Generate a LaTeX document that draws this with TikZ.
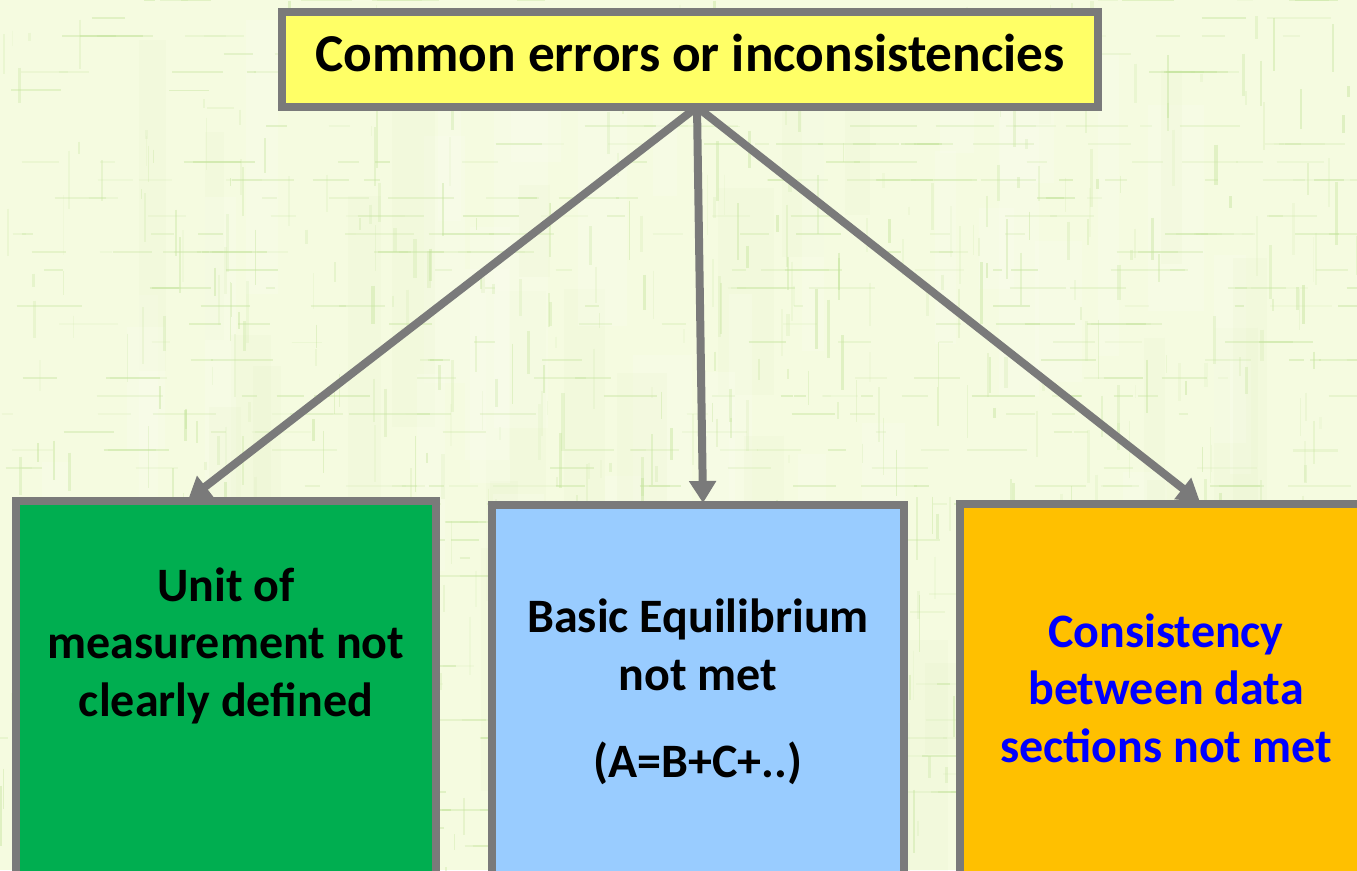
\documentclass[tikz,border=0pt]{standalone}
\usepackage{fontspec}
\setmainfont{Carlito}
\usetikzlibrary{arrows.meta}
\definecolor{paper}{HTML}{F5FBE0}
\definecolor{weave}{HTML}{C4E49C}
\definecolor{pale}{HTML}{FEFFF4}
\definecolor{edgegray}{HTML}{7A7A7A}
\definecolor{boxgreen}{HTML}{00AE50}
\definecolor{boxblue}{HTML}{99CCFF}
\definecolor{boxorange}{HTML}{FFC000}
\definecolor{boxyellow}{HTML}{FFFF66}
\tikzset{
  box/.style={draw=edgegray,line width=8pt,inner sep=0pt,outer sep=0pt,anchor=north west},
  link/.style={draw=edgegray,line width=8pt,-{Triangle[length=22pt,width=26pt]}},
  label/.style={font=\fontsize{48}{57.5}\selectfont\bfseries,align=center,inner sep=0pt},
}
\begin{document}
\begin{tikzpicture}[x=1pt,y=-1pt]
\useasboundingbox (0,0) rectangle (1357,870);
\clip (0,0) rectangle (1357,870);
\fill[paper] (0,0) rectangle (1357,870);
\pgfmathsetseed{4217}
% broad soft washes
\foreach \i in {1,...,45}{
  \pgfmathsetmacro{\xa}{rnd*1357}
  \pgfmathsetmacro{\ya}{rnd*870}
  \pgfmathsetmacro{\la}{80+rnd*260}
  \pgfmathsetmacro{\wa}{10+rnd*50}
  \draw[pale,opacity=0.22,line width=\wa pt] (\xa,\ya) -- ++(0,\la);
  \pgfmathsetmacro{\xb}{rnd*1357}
  \pgfmathsetmacro{\yb}{rnd*870}
  \draw[weave,opacity=0.06,line width=\wa pt] (\xb,\yb) -- ++(0,\la);
}
% fine woven threads
\foreach \i in {1,...,650}{
  \pgfmathsetmacro{\xa}{rnd*1357}
  \pgfmathsetmacro{\ya}{rnd*870}
  \pgfmathsetmacro{\la}{8+rnd*55}
  \pgfmathsetmacro{\oa}{0.10+rnd*0.35}
  \pgfmathsetmacro{\wa}{1+rnd*2.4}
  \draw[weave,opacity=\oa,line width=\wa pt] (\xa,\ya) -- ++(0,\la);
}
\foreach \i in {1,...,650}{
  \pgfmathsetmacro{\xa}{rnd*1357}
  \pgfmathsetmacro{\ya}{18*round(rnd*48)}
  \pgfmathsetmacro{\la}{8+rnd*60}
  \pgfmathsetmacro{\oa}{0.10+rnd*0.35}
  \pgfmathsetmacro{\wa}{1+rnd*2}
  \draw[weave,opacity=\oa,line width=\wa pt] (\xa,\ya) -- ++(\la,0);
}
\node[box,fill=boxgreen,minimum width=420pt,minimum height=420pt] (green) at (16,501) {};
\node[box,fill=boxblue,minimum width=412pt,minimum height=420pt] (blue) at (492,505) {};
\node[box,fill=boxorange,minimum width=440pt,minimum height=420pt] (orange) at (960,504) {};
\node[box,fill=boxyellow,minimum width=816pt,minimum height=95pt] (top) at (282,12) {};
\coordinate (hub) at (697,107);
\coordinate (gin) at (188,500);
\coordinate (bin) at (703,503);
\coordinate (oin) at (1200,502);
\draw[link] (hub) -- (gin);
\draw[link] (hub) -- (bin);
\draw[link] (hub) -- (oin);
\node[inner sep=0pt,font=\fontsize{53.3}{60}\selectfont\bfseries,anchor=base] (title) at (690,71) {Common errors or inconsistencies};
\node[label,text=black,anchor=base] (unit) at (226,716) {Unit of\\measurement not\\clearly defined};
\node[label,text=black,anchor=base] (basic) at (698,690) {Basic Equilibrium\\not met};
\node[label,text=black,anchor=base] (formula) at (698,777) {(A=B+C+..)};
\node[label,text=blue,anchor=base] (cons) at (1166,762) {Consistency\\between data\\sections not met};
\end{tikzpicture}
\end{document}
